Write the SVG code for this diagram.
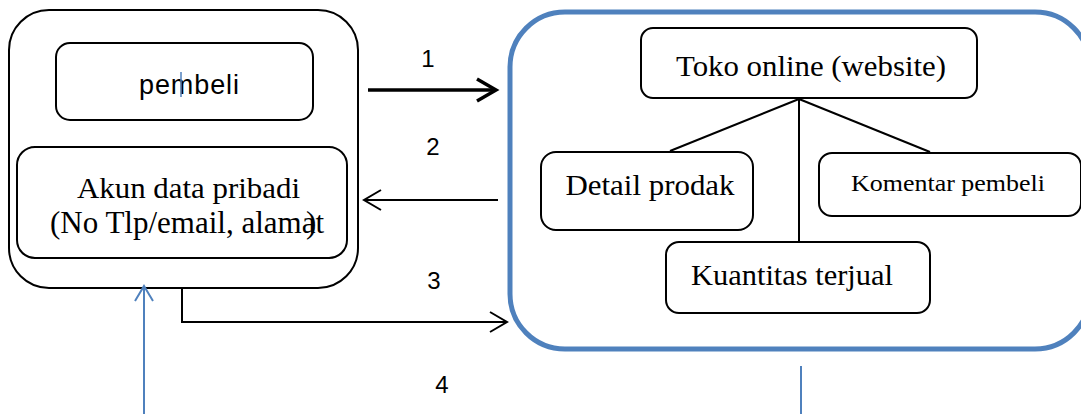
<svg xmlns="http://www.w3.org/2000/svg" width="1081" height="414" viewBox="0 0 1081 414">
<defs>
<style>
.box{fill:#fff;stroke:#000;stroke-width:2}
.blue{fill:none;stroke:#4f81bd;stroke-width:5}
.serif{font-family:"Liberation Serif","Times New Roman",serif;fill:#000}
.sans{font-family:"Liberation Sans",Arial,sans-serif;fill:#000}
.ln{fill:none;stroke:#000;stroke-width:2}
.bl{fill:none;stroke:#4f81bd;stroke-width:2}
</style>
</defs>
<rect width="1081" height="414" fill="#fff"/>
<g id="left-node">
<rect class="box" x="9" y="10" width="349" height="278" rx="40"/>
</g>
<g id="pembeli">
<rect class="box" x="56" y="43" width="257" height="77" rx="14"/>
<text class="sans" x="189" y="94" font-size="27" text-anchor="middle" textLength="100" lengthAdjust="spacing">pembeli</text>
<line x1="181" y1="72" x2="181" y2="97" stroke="#4f81bd" stroke-width="1.5"/>
</g>
<g id="akun">
<rect class="box" x="17" y="147" width="330" height="111" rx="18"/>
<text class="serif" x="188.5" y="198" font-size="30" text-anchor="middle" textLength="223" lengthAdjust="spacingAndGlyphs">Akun data pribadi</text>
<text class="serif" x="50" y="233" font-size="31">(No Tlp/email, alamat<tspan dx="-18">)</tspan></text>
</g>
<g id="toko-container">
<rect class="blue" x="510" y="12" width="580" height="337" rx="55"/>
</g>
<g id="toko">
<rect class="box" x="641" y="28" width="336" height="70" rx="12"/>
<text class="serif" x="811" y="76" font-size="30" text-anchor="middle" textLength="270" lengthAdjust="spacingAndGlyphs">Toko online (website)</text>
</g>
<g id="detail">
<rect class="box" x="541" y="152" width="212" height="78" rx="15"/>
<text class="serif" x="650" y="195" font-size="30" text-anchor="middle" textLength="169" lengthAdjust="spacingAndGlyphs">Detail prodak</text>
</g>
<g id="komentar">
<rect class="box" x="819" y="153" width="262" height="63" rx="13"/>
<text class="serif" x="948" y="191" font-size="23" text-anchor="middle" textLength="194" lengthAdjust="spacingAndGlyphs">Komentar pembeli</text>
</g>
<g id="kuantitas">
<rect class="box" x="666" y="242" width="264" height="71" rx="13"/>
<text class="serif" x="792" y="285" font-size="30" text-anchor="middle" textLength="202" lengthAdjust="spacingAndGlyphs">Kuantitas terjual</text>
</g>
<g id="connectors">
<line class="ln" x1="799" y1="99" x2="670" y2="151"/>
<line class="ln" x1="799" y1="99" x2="799" y2="242"/>
<line class="ln" x1="799" y1="99" x2="930" y2="152"/>
<line x1="368" y1="90" x2="496" y2="90" stroke="#000" stroke-width="3.5"/>
<polyline points="477,79 496,90 477,101" fill="none" stroke="#000" stroke-width="3.5"/>
<line class="ln" x1="498" y1="200" x2="364" y2="200"/>
<polyline class="ln" points="381,190 364,200 381,210"/>
<polyline class="ln" points="182,288 182,322 507,322"/>
<polyline class="ln" points="490,312 507,322 490,332"/>
<line class="bl" x1="144" y1="414" x2="144" y2="286"/>
<polyline class="bl" points="135,301 144,286 153,301"/>
<line class="bl" x1="801" y1="366" x2="801" y2="414"/>
</g>
<g id="labels">
<text class="sans" x="428" y="67" font-size="24" text-anchor="middle">1</text>
<text class="sans" x="433" y="155" font-size="24" text-anchor="middle">2</text>
<text class="sans" x="434" y="289" font-size="24" text-anchor="middle">3</text>
<text class="sans" x="442" y="393" font-size="24" text-anchor="middle">4</text>
</g>
</svg>
